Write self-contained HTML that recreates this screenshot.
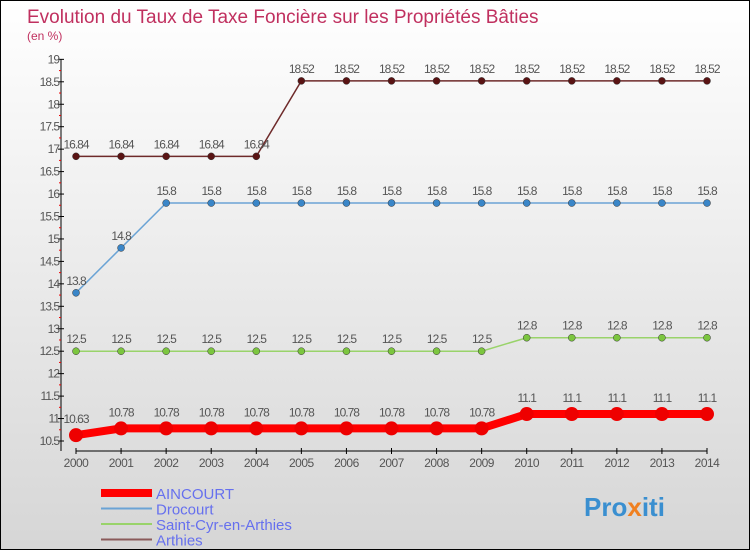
<!DOCTYPE html>
<html><head><meta charset="utf-8"><style>
body{margin:0}
#c{width:748px;height:548px;border:1px solid #000;background:linear-gradient(#fff,#d6d6d6);position:relative;font-family:"Liberation Sans",sans-serif}
</style></head><body>
<div id="c">
<svg id="s" width="748" height="548" xmlns="http://www.w3.org/2000/svg">
<text x="26" y="22" font-size="19" fill="#c0305f">Evolution du Taux de Taxe Foncière sur les Propriétés Bâties</text>
<text x="26" y="39" font-size="12" fill="#c0305f">(en %)</text>
<g id="axes"></g><g id="series"></g>
<text x="583" y="515" font-size="26" font-weight="bold" fill="#3a8fd0">Pro<tspan fill="#f08020">x</tspan>iti</text>
</svg></div>
<script>
const years=[2000,2001,2002,2003,2004,2005,2006,2007,2008,2009,2010,2011,2012,2013,2014];
const aincourt=[10.63,10.78,10.78,10.78,10.78,10.78,10.78,10.78,10.78,10.78,11.1,11.1,11.1,11.1,11.1];
const drocourt=[13.8,14.8,15.8,15.8,15.8,15.8,15.8,15.8,15.8,15.8,15.8,15.8,15.8,15.8,15.8];
const saintCyr=[12.5,12.5,12.5,12.5,12.5,12.5,12.5,12.5,12.5,12.5,12.8,12.8,12.8,12.8,12.8];
const arthies=[16.84,16.84,16.84,16.84,16.84,18.52,18.52,18.52,18.52,18.52,18.52,18.52,18.52,18.52,18.52];
const yTicks=[10.5,11,11.5,12,12.5,13,13.5,14,14.5,15,15.5,16,16.5,17,17.5,18,18.5,19];
const NS="http://www.w3.org/2000/svg";
const X=i=>75+i*(631/14);
const Y=v=>440-(v-10.5)*44.9;
function mk(tag,attrs,parent,text){const e=document.createElementNS(NS,tag);for(const k in attrs)e.setAttribute(k,attrs[k]);if(text!==undefined)e.textContent=text;parent.appendChild(e);return e;}
const ax=document.getElementById('axes');
let yl=mk('line',{x1:60,y1:58,x2:60,y2:450,stroke:'#000'},ax);


let xl=mk('line',{x1:75,y1:450,x2:706,y2:450,stroke:'#000'},ax);


yTicks.forEach(v=>{
  mk('line',{x1:57,y1:Y(v),x2:63,y2:Y(v),stroke:'#000'},ax);
  if(v<19) mk('line',{x1:58,y1:Y(v+0.25),x2:60,y2:Y(v+0.25),stroke:'#e00'},ax);
  const t=mk('text',{x:58,y:Y(v)+4,'font-size':12,'text-anchor':'end',fill:'#555','letter-spacing':'-1'},ax,String(v));
  
  
});
years.forEach((y,i)=>{
  mk('line',{x1:X(i),y1:447,x2:X(i),y2:453,stroke:'#000'},ax);
  const t=mk('text',{x:X(i),y:466,'font-size':12,'text-anchor':'middle',fill:'#555','letter-spacing':'-0.5'},ax,String(y));
  
  
});
const sg=document.getElementById('series');
const defs=[
 {d:arthies,c:'#6e2a2a',f:'#5a1414',w:1.5,r:3.5,n:'arthies'},
 {d:drocourt,c:'#6aa3d5',f:'#3a86c8',w:1.5,r:3.5,n:'drocourt'},
 {d:saintCyr,c:'#99d36a',f:'#7cc63f',w:1.5,r:3.5,n:'saint-cyr'},
 {d:aincourt,c:'#f00',f:'#e00',w:8,r:7,n:'aincourt'}];
defs.forEach(s=>{
  const p=mk('polyline',{points:s.d.map((v,i)=>X(i)+','+Y(v)).join(' '),fill:'none',stroke:s.c,'stroke-width':s.w},sg);
  
  
  s.d.forEach((v,i)=>{
    const c=mk('circle',{cx:X(i),cy:Y(v),r:s.r,fill:s.f,stroke:s.n=='aincourt'?'none':'#333','stroke-width':0.5},sg);
    
    
    const t=mk('text',{x:X(i),y:Y(v)-(s.n=='aincourt'?12:8),'font-size':12,'text-anchor':'middle',fill:'#555','letter-spacing':'-1'},sg,String(v));
    
    
  });
});
const leg=[['AINCOURT','#f00',8],['Drocourt','#6aa3d5',2],['Saint-Cyr-en-Arthies','#99d36a',2],['Arthies','#8a5a5a',2]];
leg.forEach((l,i)=>{
  const y=492+i*15.5;
  const g=mk('g',{},sg);
  
  
  mk('line',{x1:100,y1:y,x2:151,y2:y,stroke:l[1],'stroke-width':l[2]},g);
  mk('text',{x:155,y:y+6,'font-size':15,fill:'#6670ee'},g,l[0]);
});
</script>
</body></html>
